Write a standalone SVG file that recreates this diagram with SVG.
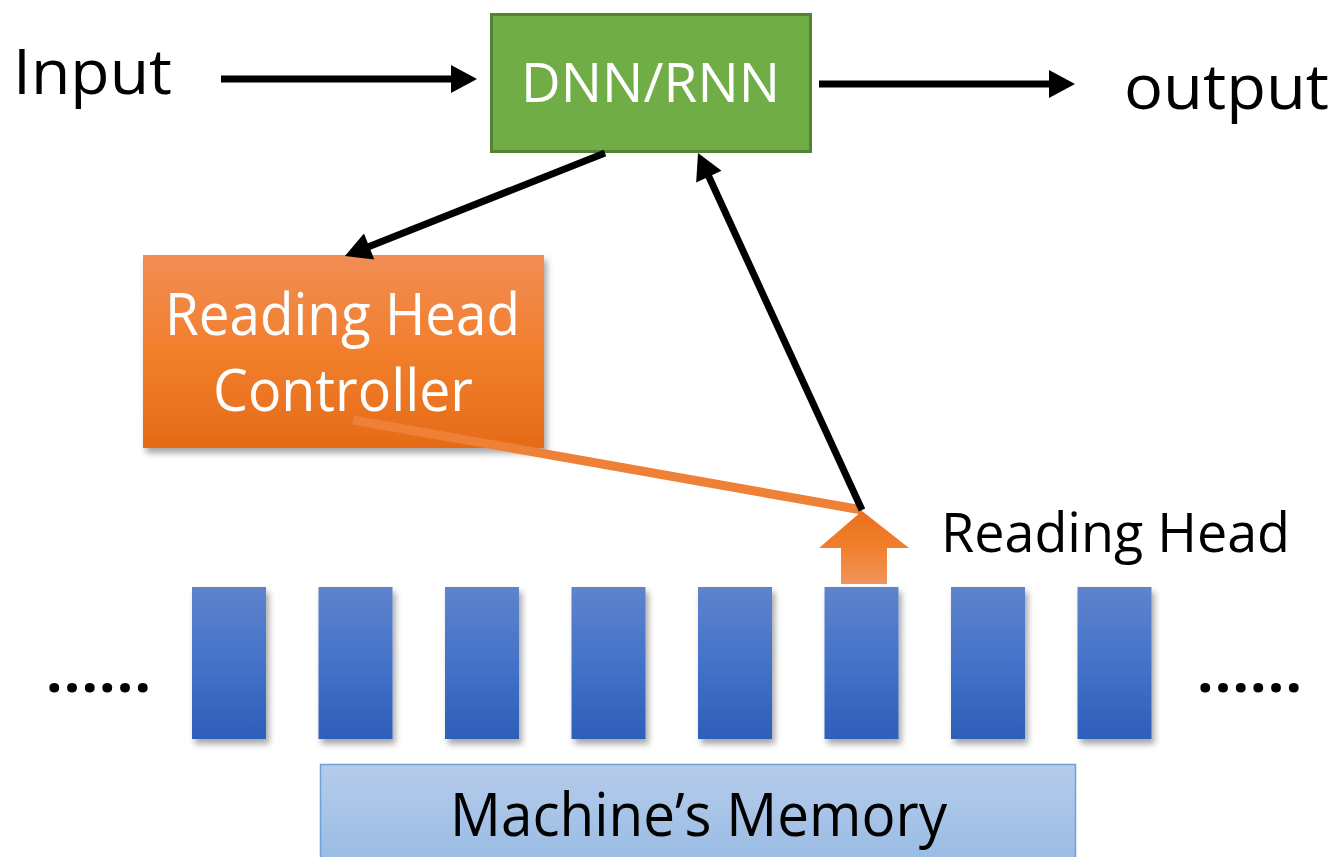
<svg xmlns="http://www.w3.org/2000/svg" width="1334" height="857" viewBox="0 0 1334 857">
  <style>
    .t { font-family: "Open Sans", "Noto Sans", "Liberation Sans", sans-serif; }
    .blk { fill: #000000; }
    .wht { fill: #FFFFFF; }
    .conn { stroke: #000000; stroke-width: 7; fill: none; }
    .bar { fill: url(#gBlue); filter: url(#shadow); }
    .dots { font-weight: bold; }
  </style>
  <defs>
    <linearGradient id="gOrange" x1="0" y1="0" x2="0" y2="1">
      <stop offset="0" stop-color="#F18D55"/>
      <stop offset="0.5" stop-color="#F27F2C"/>
      <stop offset="1" stop-color="#E56B17"/>
    </linearGradient>
    <linearGradient id="gBlue" x1="0" y1="0" x2="0" y2="1">
      <stop offset="0" stop-color="#5E84CC"/>
      <stop offset="0.5" stop-color="#4472C9"/>
      <stop offset="1" stop-color="#2E5EB9"/>
    </linearGradient>
    <linearGradient id="gMem" x1="0" y1="0" x2="0" y2="1">
      <stop offset="0" stop-color="#B5CCEB"/>
      <stop offset="1" stop-color="#99BBE3"/>
    </linearGradient>
    <linearGradient id="gUp" x1="0" y1="0" x2="0" y2="1">
      <stop offset="0" stop-color="#E8701E"/>
      <stop offset="0.5" stop-color="#F27F2C"/>
      <stop offset="1" stop-color="#F0945C"/>
    </linearGradient>
    <filter id="shadow" x="-20%" y="-20%" width="150%" height="150%">
      <feDropShadow dx="3" dy="5" stdDeviation="3" flood-color="#000000" flood-opacity="0.35"/>
    </filter>
    <marker id="arr" markerUnits="userSpaceOnUse" markerWidth="28" markerHeight="28" viewBox="0 0 26 28" refX="4" refY="14" orient="auto">
      <path d="M0,0 L26,14 L0,28 z" fill="#000000"/>
    </marker>
  </defs>

  <g id="memory-cells">
    <rect class="bar" x="192" y="587" width="74" height="152"/>
    <rect class="bar" x="318.5" y="587" width="74" height="152"/>
    <rect class="bar" x="445" y="587" width="74" height="152"/>
    <rect class="bar" x="571.5" y="587" width="74" height="152"/>
    <rect class="bar" x="698" y="587" width="74" height="152"/>
    <rect class="bar" x="824.5" y="587" width="74" height="152"/>
    <rect class="bar" x="951" y="587" width="74" height="152"/>
    <rect class="bar" x="1077.5" y="587" width="74" height="152"/>
  </g>

  <g id="dots-left">
    <text class="t blk dots" x="46" y="692" font-size="58" textLength="105" lengthAdjust="spacing">......</text>
  </g>
  <g id="dots-right">
    <text class="t blk dots" x="1197" y="692" font-size="58" textLength="105" lengthAdjust="spacing">......</text>
  </g>

  <g id="memory">
    <rect x="320.5" y="764.5" width="755" height="100" fill="url(#gMem)" stroke="#6FA0D8" stroke-width="1.5"/>
    <text class="t blk" x="450" y="836" font-size="60" textLength="497" lengthAdjust="spacingAndGlyphs">Machine’s Memory</text>
  </g>

  <g id="input-label">
    <text class="t blk" x="13" y="94" font-size="62" textLength="159" lengthAdjust="spacingAndGlyphs">Input</text>
  </g>

  <g id="output-label">
    <text class="t blk" x="1124" y="109" font-size="62" textLength="205" lengthAdjust="spacingAndGlyphs">output</text>
  </g>

  <g id="dnn">
    <rect x="491.5" y="14.5" width="319" height="137" fill="#70AD47" stroke="#548235" stroke-width="3"/>
    <text class="t wht" x="521" y="102" font-size="55" textLength="259" lengthAdjust="spacingAndGlyphs">DNN/RNN</text>
  </g>

  <g id="controller">
    <rect x="143" y="255" width="401" height="193" fill="url(#gOrange)" filter="url(#shadow)"/>
    <text class="t wht" x="165" y="335" font-size="58" textLength="355" lengthAdjust="spacingAndGlyphs">Reading Head</text>
    <text class="t wht" x="213" y="411" font-size="58" textLength="260" lengthAdjust="spacingAndGlyphs">Controller</text>
  </g>

  <g id="reading-head-label">
    <text class="t blk" x="941" y="552" font-size="55" textLength="349" lengthAdjust="spacingAndGlyphs">Reading Head</text>
  </g>

  <g id="connectors">
    <line x1="353" y1="420" x2="862" y2="510" stroke="#EE8136" stroke-width="9"/>
    <line class="conn" x1="221" y1="79" x2="455" y2="79" marker-end="url(#arr)"/>
    <line class="conn" x1="819" y1="84" x2="1053" y2="84" marker-end="url(#arr)"/>
    <line class="conn" x1="605" y1="153" x2="365.4" y2="247.9" marker-end="url(#arr)"/>
    <line class="conn" x1="862" y1="510" x2="707.2" y2="173.0" marker-end="url(#arr)"/>
  </g>

  <g id="reading-head">
    <path d="M862,511 L909,548 L887,548 L887,584 L841,584 L841,548 L819,548 Z" fill="url(#gUp)"/>
  </g>
</svg>
